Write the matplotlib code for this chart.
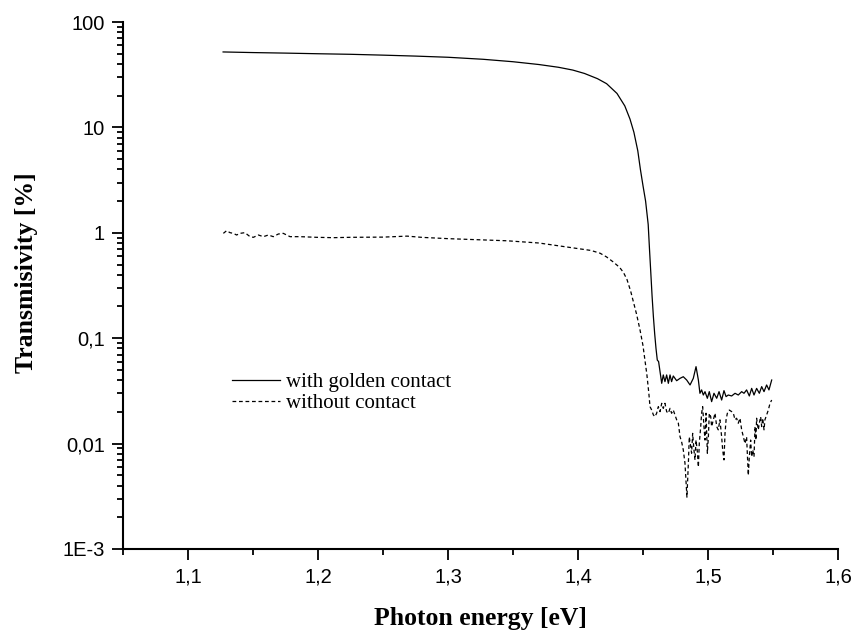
import matplotlib
matplotlib.use('Agg')
import matplotlib.pyplot as plt
from matplotlib.ticker import FixedLocator, FuncFormatter, LogLocator, NullFormatter

# solid curve: with golden contact
gold_x = [1.127, 1.150, 1.175, 1.200, 1.225, 1.250, 1.275, 1.300, 1.327, 1.350,
          1.370, 1.385, 1.396, 1.405, 1.415, 1.422, 1.430, 1.436, 1.440, 1.443,
          1.446, 1.448, 1.450, 1.452, 1.454, 1.455, 1.456, 1.457, 1.458, 1.459,
          1.460, 1.461, 1.4620, 1.4644, 1.4656, 1.4669, 1.4682, 1.4695, 1.4708, 1.4720,
          1.4733, 1.4759, 1.4785, 1.4810, 1.4836, 1.4862, 1.4887, 1.4908, 1.4926, 1.4938,
          1.4951, 1.4964, 1.4977, 1.4995, 1.5010, 1.5028, 1.5046, 1.5067, 1.5085, 1.5105,
          1.5123, 1.5139, 1.5156, 1.5182, 1.5208, 1.5233, 1.5259, 1.5277, 1.5297, 1.5318,
          1.5336, 1.5354, 1.5374, 1.5395, 1.5413, 1.5431, 1.5451, 1.5469, 1.5490]
gold_y = [52.0, 51.3, 50.7, 50.0, 49.4, 48.5, 47.5, 46.3, 44.3, 42.0,
          39.5, 37.2, 35.0, 32.5, 29.0, 26.0, 21.0, 16.0, 12.0, 9.0,
          6.0, 4.0, 2.8, 2.0, 1.2, 0.7, 0.42, 0.25, 0.16, 0.11,
          0.08, 0.062, 0.060, 0.0373, 0.0448, 0.0387, 0.0448, 0.0373, 0.0448, 0.0387,
          0.0438, 0.0395, 0.0416, 0.0431, 0.0401, 0.0360, 0.0416, 0.0537, 0.0401, 0.0300,
          0.0323, 0.0289, 0.0311, 0.0269, 0.0311, 0.0250, 0.0300, 0.0269, 0.0311, 0.0259,
          0.0318, 0.0279, 0.0289, 0.0283, 0.0300, 0.0289, 0.0311, 0.0300, 0.0323, 0.0283,
          0.0334, 0.0289, 0.0334, 0.0300, 0.0347, 0.0311, 0.0360, 0.0323, 0.0401]

# dashed curve: without contact
bare_x = [1.1272, 1.1297, 1.1323, 1.1349, 1.1374, 1.1400, 1.1438, 1.1477, 1.1503, 1.1541,
          1.1580, 1.1618, 1.1656, 1.1695, 1.1733, 1.1785, 1.1862, 1.1990, 1.2118, 1.2246,
          1.2500, 1.2685, 1.2800, 1.3000, 1.3454, 1.3700, 1.3960, 1.4100, 1.4170, 1.4220,
          1.4270, 1.4320, 1.4350, 1.4377, 1.4405, 1.4423, 1.4450, 1.4477, 1.4500, 1.4515,
          1.4530, 1.4545, 1.4554, 1.4567, 1.4580, 1.4592, 1.4605, 1.4618, 1.4631, 1.4644,
          1.4656, 1.4669, 1.4682, 1.4695, 1.4708, 1.4720, 1.4733, 1.4746, 1.4759, 1.4772,
          1.4785, 1.4797, 1.4810, 1.4823, 1.4838, 1.4850, 1.4856, 1.4867, 1.4874, 1.4882,
          1.4892, 1.4900, 1.4908, 1.4918, 1.4926, 1.4933, 1.4944, 1.4951, 1.4959, 1.4969,
          1.4977, 1.4985, 1.4995, 1.5003, 1.5010, 1.5021, 1.5028, 1.5041, 1.5054, 1.5067,
          1.5079, 1.5092, 1.5105, 1.5113, 1.5123, 1.5131, 1.5139, 1.5149, 1.5164, 1.5182,
          1.5195, 1.5208, 1.5220, 1.5233, 1.5246, 1.5259, 1.5272, 1.5285, 1.5297, 1.5310,
          1.5318, 1.5328, 1.5336, 1.5344, 1.5354, 1.5362, 1.5369, 1.5374, 1.5387, 1.5395,
          1.5405, 1.5413, 1.5421, 1.5431, 1.5438, 1.5451, 1.5464, 1.5477, 1.5490]
bare_y = [0.988, 1.047, 1.003, 0.988, 0.953, 0.988, 1.003, 0.919, 0.906, 0.953,
          0.919, 0.953, 0.919, 0.974, 0.988, 0.919, 0.919, 0.906, 0.899, 0.906,
          0.910, 0.930, 0.905, 0.880, 0.840, 0.800, 0.720, 0.680, 0.640, 0.590,
          0.530, 0.470, 0.420, 0.360, 0.280, 0.230, 0.170, 0.120, 0.085, 0.062,
          0.045, 0.030, 0.0224, 0.0208, 0.0187, 0.0180, 0.0194, 0.0224, 0.0201, 0.0241,
          0.0216, 0.0241, 0.0201, 0.0194, 0.0216, 0.0194, 0.0208, 0.0187, 0.0168, 0.0156,
          0.0116, 0.0104, 0.0087, 0.0065, 0.0031, 0.0070, 0.0116, 0.0093, 0.0081, 0.0125,
          0.0087, 0.0070, 0.0108, 0.0084, 0.0060, 0.0100, 0.0145, 0.0194, 0.0224, 0.0145,
          0.0108, 0.0194, 0.0081, 0.0116, 0.0194, 0.0180, 0.0145, 0.0168, 0.0194, 0.0145,
          0.0135, 0.0168, 0.0116, 0.0087, 0.0070, 0.0125, 0.0168, 0.0194, 0.0208, 0.0201,
          0.0194, 0.0168, 0.0174, 0.0156, 0.0174, 0.0135, 0.0116, 0.0100, 0.0116, 0.0050,
          0.0075, 0.0108, 0.0075, 0.0087, 0.0075, 0.0145, 0.0108, 0.0174, 0.0135, 0.0156,
          0.0180, 0.0145, 0.0174, 0.0135, 0.0168, 0.0187, 0.0208, 0.0241, 0.0259]

x_major = [1.1, 1.2, 1.3, 1.4, 1.5, 1.6]
x_minor = [1.05, 1.15, 1.25, 1.35, 1.45, 1.55]
y_major = [1e-3, 1e-2, 1e-1, 1, 10, 100]
y_labels = ['1E-3', '0,01', '0,1', '1', '10', '100']

fig = plt.figure(figsize=(8.53, 6.31), dpi=100)
ax = fig.add_axes([0.1442, 0.1300, 0.8382, 0.8351])

ax.plot(gold_x, gold_y, color='black', lw=0.9, label='with golden contact')
ax.plot(bare_x, bare_y, color='black', lw=0.9, dashes=(3.0, 2.2), label='without contact')

ax.set_yscale('log')
ax.set_xlim(1.05, 1.6)
ax.set_ylim(1e-3, 100)

ax.spines['top'].set_visible(False)
ax.spines['right'].set_visible(False)
ax.spines['left'].set_linewidth(1.5)
ax.spines['bottom'].set_linewidth(1.5)

ax.xaxis.set_major_locator(FixedLocator(x_major))
ax.xaxis.set_minor_locator(FixedLocator(x_minor))
ax.xaxis.set_major_formatter(FuncFormatter(lambda v, p: ('%.1f' % v).replace('.', ',')))
ax.yaxis.set_major_locator(FixedLocator(y_major))
ax.yaxis.set_major_formatter(FuncFormatter(lambda v, p: y_labels[y_major.index(min(y_major, key=lambda t: abs(t - v)))]))
ax.yaxis.set_minor_locator(LogLocator(base=10, subs=range(2, 10), numticks=20))
ax.yaxis.set_minor_formatter(NullFormatter())

ax.tick_params(which='major', direction='out', length=8, width=1.3, pad=5,
               labelsize=14.5, labelfontfamily='Liberation Sans')
ax.tick_params(which='minor', direction='out', length=4.5, width=1.3)

ax.set_xlabel('Photon energy [eV]', fontfamily='Liberation Serif', fontweight='bold',
              fontsize=18.5, labelpad=15)
ax.set_ylabel('Transmisivity [%]', fontfamily='Liberation Serif', fontweight='bold',
              fontsize=18.5)
ax.yaxis.set_label_coords(-0.119, 0.524)

ax.legend(loc='upper left', bbox_to_anchor=(0.141, 0.35), frameon=False,
          prop={'family': 'Liberation Serif', 'size': 15}, handlelength=2.3,
          handletextpad=0.3, labelspacing=0.05, borderaxespad=0)

plt.savefig('out.png', dpi=100)
